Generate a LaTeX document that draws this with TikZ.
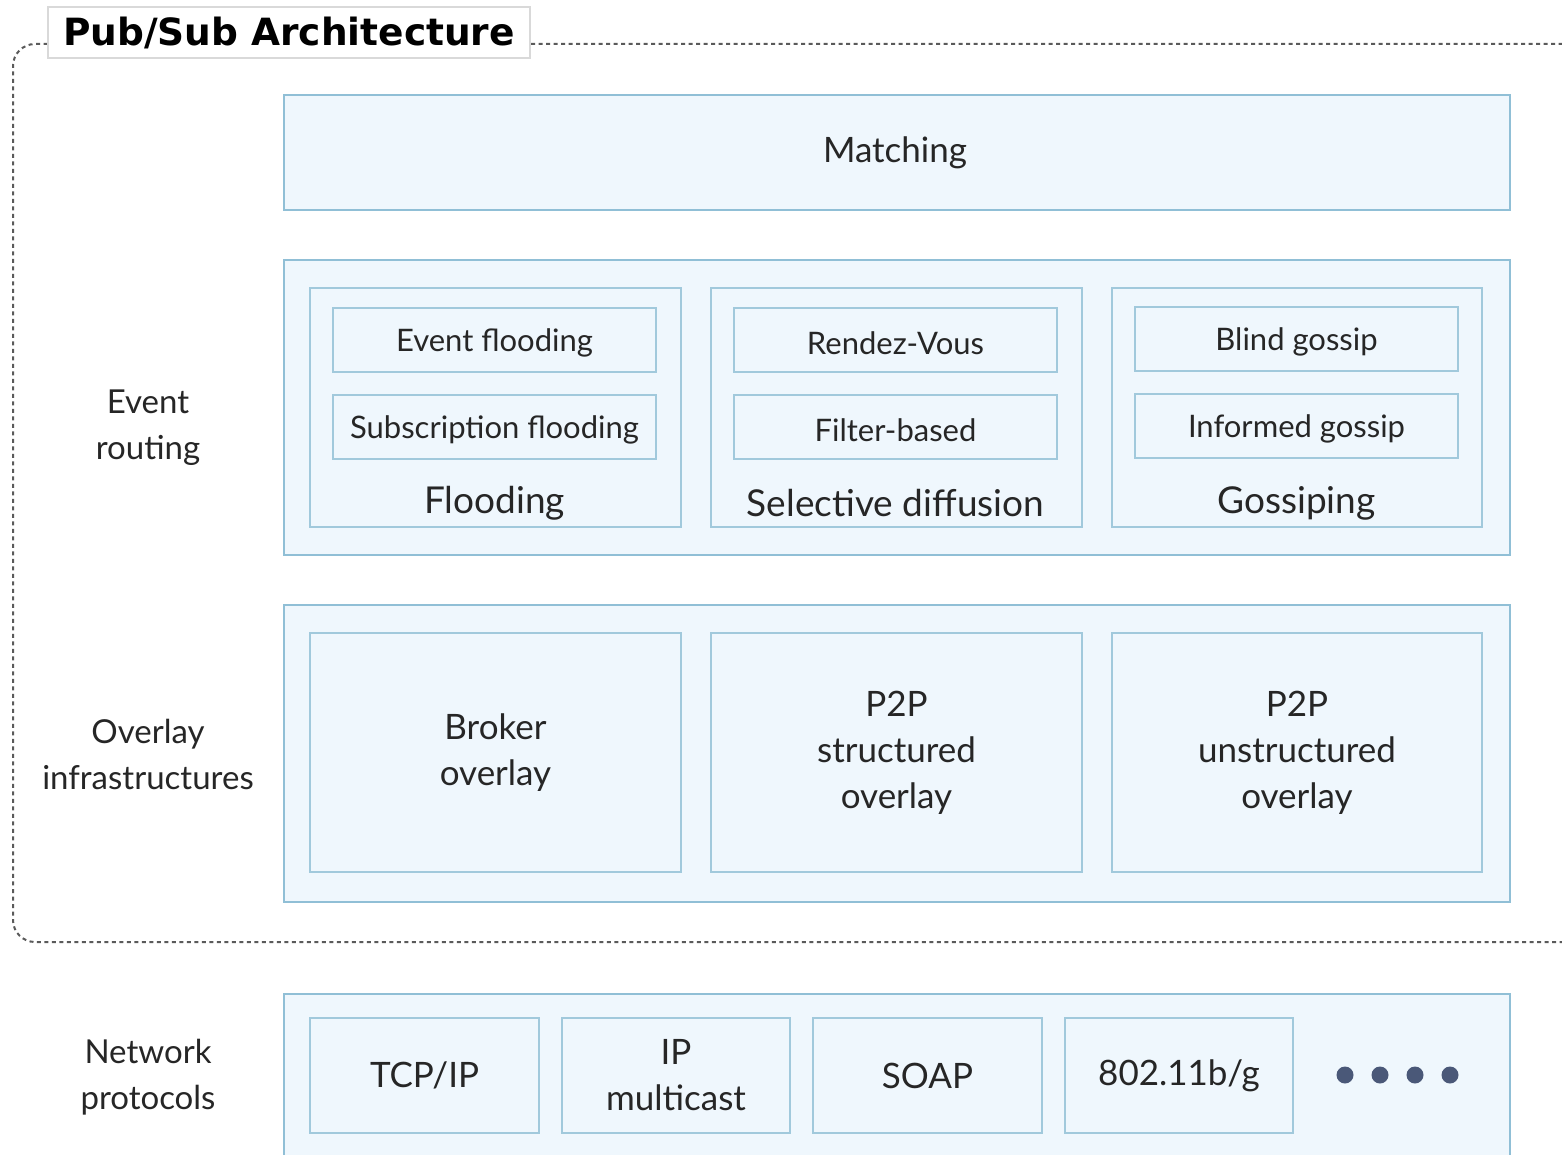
\documentclass[tikz,border=0pt]{standalone}
\usepackage{fontspec}
\setmainfont{Lato}
\newfontfamily\titlefont{DejaVu Sans}
\begin{document}
\begin{tikzpicture}[x=1pt,y=-1pt,
  every node/.style={inner sep=0pt, outer sep=0pt, text=black!85},
  outerbox/.style={draw=boxborder, fill=boxfill, line width=2.6pt},
  innerbox/.style={draw=boxborder!85, fill=boxfill, line width=2.2pt},
  lefttext/.style={align=center, yshift=-4pt, font=\fontsize{33}{46}\selectfont},
  itemtext/.style={yshift=-3pt, font=\fontsize{31}{36}\selectfont},
  grouptext/.style={yshift=-3pt, font=\fontsize{37}{42}\selectfont},
  bigtext/.style={align=center, font=\fontsize{35}{46}\selectfont},
  dotmark/.style={circle, fill=dotcol, minimum size=17pt}
]
\definecolor{boxfill}{HTML}{EFF7FD}
\definecolor{boxborder}{HTML}{90BFD6}
\definecolor{dotcol}{HTML}{4A5878}
\definecolor{framecol}{HTML}{5A5A5A}
\useasboundingbox (0,0) rectangle (1562,1155);
\clip (0,0) rectangle (1562,1155);

% dashed frame
\coordinate (ftr) at (1600,44);
\coordinate (fbr) at (1600,942);
\draw[framecol, line width=2pt, dash pattern=on 4pt off 3.5pt, rounded corners=22pt]
  (ftr) -- (13,44) -- (13,942) -- (fbr);

% title
\node[draw=black!15, fill=white, line width=1.2pt, minimum width=482pt, minimum height=51pt] (title) at (289,32.5)
  {\titlefont\bfseries\fontsize{37.5}{42}\selectfont \textcolor{black}{Pub/Sub Architecture}};

% Matching
\node[outerbox, minimum width=1226pt, minimum height=115pt] (matching) at (897,152.5) {};
\node[bigtext, yshift=-3pt] (matchingtxt) at (895,150) {Matching};

% Event routing
\node[lefttext] (evr) at (148,424) {Event\\routing};
\node[outerbox, minimum width=1226pt, minimum height=295pt] (evrbox) at (897,407.5) {};
\node[innerbox, minimum width=371pt, minimum height=239pt] (g1) at (495.5,407.5) {};
\node[innerbox, minimum width=371pt, minimum height=239pt] (g2) at (896.5,407.5) {};
\node[innerbox, minimum width=370pt, minimum height=239pt] (g3) at (1297,407.5) {};
\node[innerbox, minimum width=323pt, minimum height=64pt] (i11) at (494.5,340) {};
\node[itemtext] at (i11) {Event flooding};
\node[innerbox, minimum width=323pt, minimum height=64pt] (i12) at (494.5,427) {};
\node[itemtext] at (i12) {Subscription flooding};
\node[grouptext] (l1) at (494.5,500) {Flooding};
\node[innerbox, minimum width=323pt, minimum height=64pt] (i21) at (895.5,340) {};
\node[itemtext] at (i21) {Rendez-Vous};
\node[innerbox, minimum width=323pt, minimum height=64pt] (i22) at (895.5,427) {};
\node[itemtext] at (i22) {Filter-based};
\node[grouptext] (l2) at (895.5,500) {Selective diffusion};
\node[innerbox, minimum width=323pt, minimum height=64pt] (i31) at (1296.5,339) {};
\node[itemtext] at (i31) {Blind gossip};
\node[innerbox, minimum width=323pt, minimum height=64pt] (i32) at (1296.5,426) {};
\node[itemtext] at (i32) {Informed gossip};
\node[grouptext] (l3) at (1296.5,500) {Gossiping};

% Overlay infrastructures
\node[lefttext, yshift=2pt] (ovl) at (148,752) {Overlay\\infrastructures};
\node[outerbox, minimum width=1226pt, minimum height=297pt] (ovlbox) at (897,753.5) {};
\node[innerbox, minimum width=371pt, minimum height=239pt, bigtext] (o1) at (495.5,752.5) {Broker\\overlay};
\node[innerbox, minimum width=371pt, minimum height=239pt, bigtext] (o2) at (896.5,752.5) {P2P\\structured\\overlay};
\node[innerbox, minimum width=370pt, minimum height=239pt, bigtext] (o3) at (1297,752.5) {P2P\\unstructured\\overlay};

% Network protocols
\node[lefttext, yshift=2pt] (net) at (148,1075) {Network\\protocols};
\node[outerbox, minimum width=1226pt, minimum height=260pt] (netbox) at (897,1124) {};
\node[innerbox, minimum width=229pt, minimum height=115pt, bigtext] (n1) at (424.5,1075.5) {TCP/IP};
\node[innerbox, minimum width=228pt, minimum height=115pt, bigtext] (n2) at (676,1075.5) {IP\\multicast};
\node[innerbox, minimum width=229pt, minimum height=115pt, bigtext] (n3) at (927.5,1075.5) {SOAP};
\node[innerbox, minimum width=228pt, minimum height=115pt, bigtext] (n4) at (1179,1075.5) {802.11b/g};
\node[dotmark] (d1) at (1345,1075) {};
\node[dotmark] (d2) at (1380,1075) {};
\node[dotmark] (d3) at (1415,1075) {};
\node[dotmark] (d4) at (1450,1075) {};
\end{tikzpicture}
\end{document}
